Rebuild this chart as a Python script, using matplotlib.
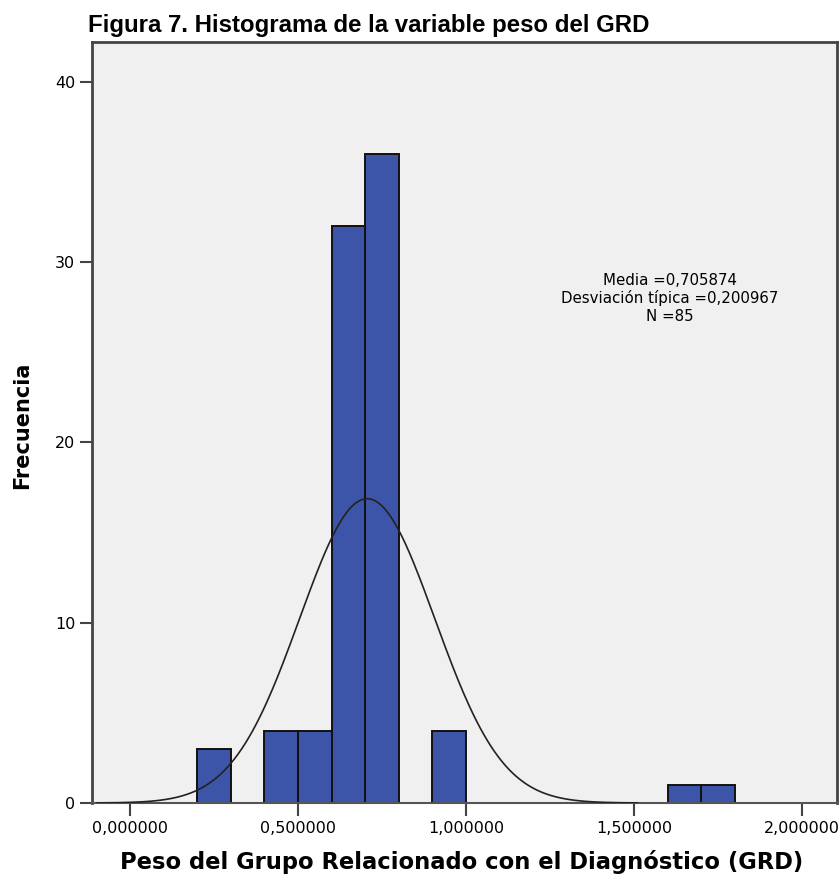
import numpy as np
import matplotlib
matplotlib.use("Agg")
import matplotlib.pyplot as plt

# histograma del peso GRD (intervalos de 0,1)
bin_left = [0.2, 0.4, 0.5, 0.6, 0.7, 0.9, 1.6, 1.7]
counts = [3, 4, 4, 32, 36, 4, 1, 1]
bin_width = 0.1
media = 0.705874
desv = 0.200967
n = 85

xticks = [0.0, 0.5, 1.0, 1.5, 2.0]
xticklabels = ["0,000000", "0,500000", "1,000000", "1,500000", "2,000000"]
yticks = [0, 10, 20, 30, 40]
stats = ["Media =0,705874", "Desviación típica =0,200967", "N =85"]

W, H = 840, 876
fig = plt.figure(figsize=(W / 100, H / 100), dpi=100)
ax = fig.add_axes([92 / W, 1 - 803 / H, 745 / W, 761 / H])
ax.set_facecolor('#f0f0f0')

ax.bar(bin_left, counts, width=bin_width, align='edge', color='#3c55a8',
       edgecolor='#111111', linewidth=1.4, zorder=2)

# curva normal
xs = np.linspace(media - 4 * desv, media + 4 * desv, 300)
ys = n * bin_width / (desv * np.sqrt(2 * np.pi)) * np.exp(-0.5 * ((xs - media) / desv) ** 2)
ax.plot(xs, ys, color='#222222', linewidth=1.2, zorder=3)

ax.set_xlim(-0.113, 2.104)
ax.set_ylim(0, 42.2)
ax.set_xticks(xticks)
ax.set_xticklabels(xticklabels, family=['DejaVu Sans'], fontsize=11.5)
ax.set_yticks(yticks)
ax.set_yticklabels([str(v) for v in yticks], family=['Liberation Sans Narrow', 'DejaVu Sans'],
                   fontsize=11.5)
ax.tick_params(axis='both', direction='out', length=9, width=1.5, color='#444444')
ax.tick_params(axis='x', pad=4)
ax.tick_params(axis='y', pad=3)

for side in ['left', 'top', 'right']:
    ax.spines[side].set_color('#444444')
    ax.spines[side].set_linewidth(2)
ax.spines['bottom'].set_color('#555555')
ax.spines['bottom'].set_linewidth(1.5)

for i, s in enumerate(stats):
    fig.text(670 / W, 1 - (285 + 18 * i) / H, s, ha='center', va='baseline',
             fontsize=10.8, family=['DejaVu Sans'])

fig.text(462 / W, 1 - 869 / H, "Peso del Grupo Relacionado con el Diagnóstico (GRD)",
         fontsize=16.3, fontweight='bold', family=['DejaVu Sans'],
         ha='center', va='baseline')
fig.text(22 / W, 1 - 425 / H, "Frecuencia", fontsize=15, fontweight='bold',
         family=['DejaVu Sans'], rotation=90, ha='center', va='center')

fig.text(88 / W, 1 - 32 / H, "Figura 7. Histograma de la variable peso del GRD",
         fontsize=17.3, fontweight='bold', family=['Liberation Sans', 'DejaVu Sans'],
         ha='left', va='baseline')

fig.savefig("out.png", dpi=100)
